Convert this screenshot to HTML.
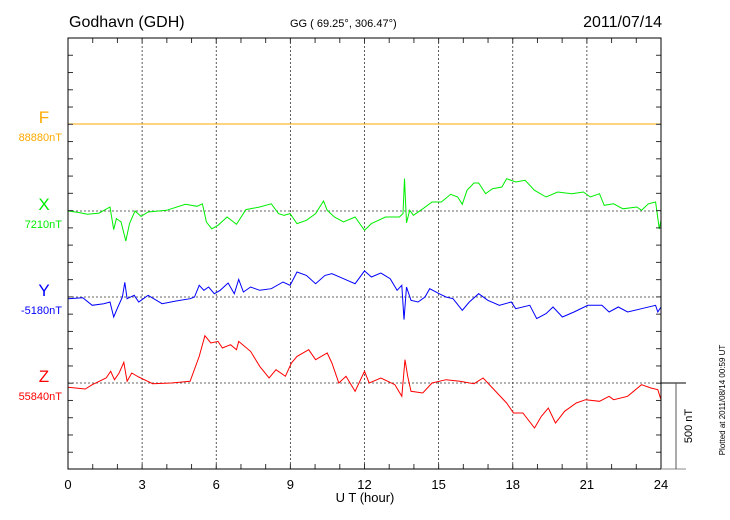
<!DOCTYPE html>
<html><head><meta charset="utf-8"><style>
html,body{margin:0;padding:0;background:#fff}
svg{display:block;font-family:"Liberation Sans",sans-serif}
</style></head><body>
<svg id="chart" width="730" height="520" viewBox="0 0 730 520">
<rect width="730" height="520" fill="#fff"/>
<text x="69" y="27" font-size="16">Godhavn (GDH)</text>
<text x="290" y="27" font-size="11">GG ( 69.25°, 306.47°)</text>
<text x="662" y="27" font-size="16" text-anchor="end">2011/07/14</text>
<g id="grid"></g>
<g id="series"></g>
<g id="axes"></g>
<text x="365" y="502" font-size="13" text-anchor="middle">U T (hour)</text>
<text transform="translate(692,426) rotate(-90)" font-size="11" text-anchor="middle">500 nT</text>
<text transform="translate(725,400) rotate(-90)" font-size="8" text-anchor="middle">Plotted at 2011/08/14 00:59 UT</text>
</svg>
<script>
const xTicks=[0,3,6,9,12,15,18,21,24];
const compNames=["F","X","Y","Z"];
const compBase=["88880nT","7210nT","-5180nT","55840nT"];
const compColors=["#ffaa00","#00ee00","#0000ff","#ff0000"];
const fHours=[0,24];
const fVals=[0,0];
const xHours=[0,0.41,0.79,1.26,1.70,1.85,1.96,2.15,2.34,2.49,2.71,2.96,3.24,3.99,4.75,5.22,5.44,5.60,5.82,6.07,6.44,6.82,7.20,7.76,8.23,8.52,8.74,8.99,9.27,9.65,10.02,10.34,10.49,10.78,11.15,11.62,12.0,12.28,12.85,13.41,13.56,13.62,13.70,13.83,13.98,14.36,14.73,15.11,15.49,15.77,15.96,16.15,16.43,16.62,16.90,17.18,17.56,17.75,18.12,18.50,18.88,19.35,19.82,20.38,20.86,21.14,21.51,21.70,22.08,22.46,23.02,23.21,23.49,23.78,23.93,24.0];
const xVals=[0,-8,-19,-12,23,-108,-44,-64,-174,-73,0,-31,-6,4,39,27,42,-64,-103,-83,-35,-77,8,23,42,-15,-25,-15,-73,-54,-15,58,4,-35,-64,-35,-112,-73,-35,-35,-15,187,-69,4,-25,13,52,52,97,81,39,120,162,162,100,129,139,187,168,178,120,81,110,100,110,81,100,33,42,13,23,4,42,52,-104,-54];
const yHours=[0,0.6,0.98,1.45,1.70,1.85,2.02,2.2,2.30,2.39,2.68,2.86,3.24,3.81,4.37,4.94,5.12,5.31,5.50,5.69,5.92,6.16,6.48,6.73,6.91,7.10,7.39,7.76,8.23,8.70,8.99,9.27,9.65,10.02,10.40,10.68,11.15,11.62,12.0,12.28,12.66,13.04,13.32,13.51,13.60,13.70,13.88,14.17,14.45,14.64,15.02,15.30,15.58,15.96,16.24,16.62,16.99,17.46,17.94,18.12,18.69,18.97,19.35,19.63,20.01,20.48,21.04,21.61,21.90,22.27,22.65,23.21,23.78,23.87,24];
const yVals=[-10,-4,-48,-39,-29,-116,-58,0,85,-10,10,-29,10,-39,-23,-10,0,68,39,58,19,39,81,19,102,29,58,39,48,87,68,145,125,77,125,135,106,77,151,116,139,106,39,68,-131,58,-19,-29,0,48,19,0,-10,-77,-29,19,-19,-48,-29,-68,-48,-125,-96,-58,-116,-87,-48,-48,-87,-58,-87,-68,-48,-87,-58];
const zHours=[0,0.70,0.98,1.54,1.73,1.88,2.07,2.26,2.39,2.58,2.86,3.43,4.18,4.94,5.31,5.54,5.78,6.07,6.25,6.58,6.82,6.91,7.39,7.76,8.14,8.42,8.80,9.04,9.27,9.74,10.02,10.49,10.68,10.96,11.25,11.62,12.0,12.19,12.66,13.23,13.51,13.64,13.75,13.88,14.36,14.73,15.30,15.86,16.43,16.80,17.18,17.75,18.03,18.41,18.88,19.16,19.44,19.73,20.10,20.57,20.95,21.51,21.90,22.08,22.65,23.21,23.59,23.87,24];
const zVals=[-25,-35,-10,29,68,19,58,120,10,58,35,-4,0,10,154,274,232,241,203,222,193,241,183,97,29,77,39,116,154,193,135,174,116,0,39,-48,68,0,29,-10,-77,135,39,-48,-58,0,19,10,-4,29,-29,-116,-174,-174,-261,-193,-145,-232,-164,-116,-97,-106,-77,-97,-77,-10,-29,-39,-97];

const NS="http://www.w3.org/2000/svg";
const L=68,R=661,T=38,B=469;
const baseY=[124,211,297,383];
const pxPerNT=86.3/500;
function xs(h){return L+h/24*(R-L);}
function ys(i,v){return baseY[i]-v*pxPerNT;}
function mk(tag,attrs,parent){const e=document.createElementNS(NS,tag);for(const k in attrs)e.setAttribute(k,attrs[k]);parent.appendChild(e);return e;}
const grid=document.getElementById('grid'),axes=document.getElementById('axes'),ser=document.getElementById('series');
xTicks.forEach(t=>{
  if(t>0&&t<24){const g=mk('line',{x1:xs(t),x2:xs(t),y1:T,y2:B,stroke:'#333','stroke-width':0.8,'stroke-dasharray':'2,2'},grid);
  
  }
  const tx=mk('text',{x:xs(t),y:489,'font-size':13,'text-anchor':'middle'},axes);tx.textContent=t;
  
  
});
for(let h=0;h<=24;h++){
  mk('line',{x1:xs(h),x2:xs(h),y1:T,y2:T+5,stroke:'#333'},axes);
  mk('line',{x1:xs(h),x2:xs(h),y1:B,y2:B-5,stroke:'#333'},axes);
}
for(let k=0;k<=25;k++){const y=T+k*17.26;if(y>B)break;
  mk('line',{x1:L,x2:L+5,y1:y,y2:y,stroke:'#333'},axes);
  mk('line',{x1:R,x2:R-5,y1:y,y2:y,stroke:'#333'},axes);
}
baseY.forEach((y,i)=>{const b=mk('line',{x1:L,x2:R,y1:y,y2:y,stroke:'#333','stroke-width':0.8,'stroke-dasharray':'2,2'},grid);
  
  
  const n=mk('text',{x:44,y:y-1,'font-size':17,'text-anchor':'middle',fill:compColors[i]},axes);n.textContent=compNames[i];
  
  
  const v=mk('text',{x:62,y:y+17,'font-size':11,'text-anchor':'end',fill:compColors[i]},axes);v.textContent=compBase[i];
  
  
});
const frame=mk('rect',{x:L,y:T,width:R-L,height:B-T,fill:'none',stroke:'#000','stroke-width':1},axes);


const sets=[[fHours,fVals],[xHours,xVals],[yHours,yVals],[zHours,zVals]];
sets.forEach((s,i)=>{
  const d=s[0].map((h,j)=>(j?'L':'M')+xs(h).toFixed(1)+','+ys(i,s[1][j]).toFixed(1)).join('');
  const p=mk('path',{d:d,fill:'none',stroke:compColors[i],'stroke-width':1},ser);
  
  
});
// scale bar
mk('line',{x1:R,x2:686,y1:383,y2:383,stroke:'#000'},axes);
mk('line',{x1:R,x2:686,y1:B,y2:B,stroke:'#888'},axes);
const sb=mk('line',{x1:676,x2:676,y1:383,y2:B,stroke:'#555'},axes);


</script>
</body></html>
